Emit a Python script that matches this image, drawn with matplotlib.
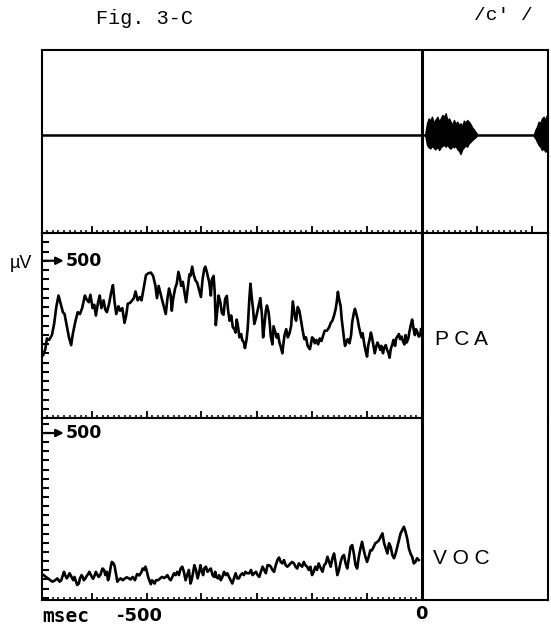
import numpy as np
import matplotlib
matplotlib.use('Agg')
from matplotlib import pyplot as plt
from matplotlib.ticker import FixedLocator, MultipleLocator

# time in msec, 0 = voice onset
t_min, t_max = -690, 230

# PCA (posterior cricoarytenoid) EMG, uV
pca_t = [-688, -684, -681, -677, -672, -668, -664, -660, -656, -652, -649, -645,
         -641, -637, -634, -629, -625, -621, -617, -612, -609, -605, -602, -598,
         -595, -592, -588, -585, -582, -578, -575, -572, -568, -564, -561, -558,
         -555, -551, -548, -544, -540, -537, -534, -530, -526, -523, -520, -516,
         -512, -509, -505, -501, -497, -492, -488, -484, -481, -478, -474, -469,
         -465, -462, -459, -456, -454, -452, -448, -445, -442, -439, -437, -434,
         -431, -428, -425, -422, -420, -417, -414, -411, -408, -405, -401, -398,
         -395, -393, -390, -388, -386, -383, -381, -378, -376, -374, -371, -369,
         -366, -363, -360, -357, -354, -352, -349, -346, -343, -340, -338, -336,
         -334, -331, -328, -326, -323, -321, -318, -316, -313, -311, -309, -306,
         -304, -301, -298, -295, -293, -290, -288, -286, -283, -281, -278, -276,
         -274, -271, -269, -266, -263, -261, -258, -256, -253, -251, -249, -246,
         -243, -240, -237, -234, -230, -228, -225, -222, -219, -216, -213, -210,
         -207, -203, -201, -199, -196, -194, -191, -188, -185, -182, -179, -176,
         -172, -168, -165, -162, -159, -156, -154, -152, -150, -147, -145, -142,
         -140, -139, -136, -134, -131, -128, -126, -123, -121, -119, -116, -114,
         -111, -109, -107, -104, -102, -99, -97, -94, -92, -90, -87, -85,
         -82, -80, -77, -75, -73, -70, -68, -65, -63, -60, -58, -56,
         -53, -51, -48, -46, -43, -41, -39, -36, -34, -31, -29, -27,
         -24, -22, -19, -17, -14, -12, -10, -7, -5, -2, -1]
pca_uv = [245, 261, 290, 286, 299, 329, 375, 406, 384, 361, 356, 324,
          293, 272, 302, 338, 361, 356, 372, 406, 396, 388, 408, 372,
          381, 352, 388, 406, 372, 393, 368, 361, 384, 416, 434, 388,
          356, 377, 365, 372, 332, 352, 384, 386, 393, 399, 417, 393,
          402, 393, 427, 461, 466, 468, 459, 434, 399, 432, 408, 379,
          356, 397, 425, 406, 365, 393, 425, 438, 470, 452, 432, 443,
          416, 388, 425, 463, 459, 484, 461, 447, 441, 425, 402, 450,
          478, 484, 468, 454, 443, 406, 450, 459, 416, 326, 370, 406,
          390, 359, 354, 397, 405, 370, 338, 352, 320, 315, 306, 341,
          326, 293, 302, 286, 279, 264, 288, 317, 397, 438, 406, 365,
          329, 345, 365, 386, 399, 352, 293, 320, 365, 379, 361, 332,
          295, 274, 323, 308, 292, 302, 277, 268, 250, 277, 299, 315,
          293, 304, 324, 390, 347, 338, 375, 365, 338, 311, 288, 293,
          270, 261, 274, 293, 288, 277, 286, 274, 290, 283, 297, 311,
          311, 320, 332, 338, 352, 370, 390, 416, 397, 377, 341, 304,
          279, 270, 283, 288, 277, 299, 334, 359, 370, 359, 341, 323,
          304, 293, 304, 274, 259, 241, 270, 290, 306, 293, 268, 250,
          270, 279, 268, 259, 270, 250, 265, 272, 261, 250, 238, 261,
          274, 286, 270, 290, 297, 302, 288, 295, 283, 274, 299, 279,
          290, 308, 329, 341, 313, 299, 315, 306, 295, 299, 315]

# VOC (vocalis) EMG, uV
voc_t = [-687, -683, -679, -675, -671, -666, -662, -658, -655, -652, -650, -648,
         -645, -643, -640, -638, -635, -633, -631, -628, -626, -623, -621, -618,
         -616, -614, -611, -609, -606, -604, -601, -599, -597, -594, -592, -589,
         -587, -584, -582, -580, -577, -575, -572, -570, -568, -565, -563, -560,
         -558, -555, -553, -551, -547, -543, -540, -536, -532, -529, -525, -521,
         -519, -517, -513, -509, -507, -504, -502, -500, -497, -495, -492, -490,
         -488, -485, -483, -479, -475, -472, -468,
         -465, -462, -459, -456, -453, -450, -447, -444, -441, -438, -435, -432,
         -429, -426, -423, -420, -418, -415, -413, -410, -407, -404, -402, -400,
         -397, -395, -392, -389, -386, -383, -380, -377, -375, -373, -370, -368,
         -365, -362, -359, -356, -353, -350, -347, -344, -341, -338, -335, -332,
         -329, -326, -323, -320, -317, -313, -310, -307, -304, -301, -298, -295,
         -292, -289, -286, -283, -280, -277, -274, -271, -268, -265, -262, -259,
         -256, -253, -250, -247, -244, -241, -238,
         -235, -232, -229, -226, -223, -220, -217, -214, -211, -208, -205, -202,
         -199, -196, -193, -190, -187, -183, -180, -177, -174, -171, -168, -165,
         -162, -159, -156, -153, -150, -147, -144, -141, -138, -135, -132, -129,
         -126, -123, -120, -117, -114, -111, -108, -105, -102, -99, -96, -93,
         -90, -87, -84, -80, -77, -74, -71, -68, -65, -62, -59, -56,
         -53, -50, -47, -44, -41, -38, -35, -32, -29, -26, -23, -20,
         -17, -14, -11, -8, -5]
voc_uv = [112, 107, 103, 98, 94, 98, 103, 94, 98, 112, 121, 112,
          103, 107, 117, 112, 103, 98, 107, 94, 85, 89, 103, 112,
          107, 98, 103, 109, 115, 121, 112, 106, 102, 112, 121, 112,
          107, 112, 121, 130, 126, 112, 121, 98, 107, 135, 148, 144,
          137, 112, 94, 98, 103, 98, 102, 106, 103, 100, 107, 98,
          107, 115, 111, 121, 130, 126, 135, 126, 107, 98, 87, 98,
          94, 89, 98, 98, 103, 107, 104,
          107, 112, 103, 98, 107, 117, 112, 121, 112, 130, 135, 121,
          98, 112, 126, 89, 98, 121, 139, 126, 103, 121, 139, 126,
          112, 130, 135, 121, 126, 130, 112, 107, 121, 107, 103, 112,
          98, 107, 121, 112, 117, 107, 98, 89, 103, 117, 103, 103,
          112, 117, 112, 121, 117, 117, 126, 112, 117, 121, 112, 107,
          121, 135, 126, 117, 139, 139, 135, 126, 121, 139, 153, 160,
          148, 144, 153, 139, 135, 139, 144,
          148, 144, 135, 130, 144, 139, 135, 148, 139, 135, 126, 135,
          112, 121, 135, 126, 144, 130, 121, 139, 144, 162, 148, 135,
          158, 171, 144, 112, 126, 148, 162, 167, 144, 130, 158, 189,
          194, 171, 139, 130, 162, 185, 203, 180, 162, 148, 162, 180,
          180, 189, 199, 203, 208, 217, 226, 199, 185, 171, 199, 189,
          167, 158, 171, 189, 208, 226, 235, 244, 230, 212, 185, 171,
          162, 144, 148, 158, 153]

# speech wave /c'/ : upper and lower envelope of the two bursts (arbitrary units)
burst1_t = [7, 10, 13, 16, 19, 22, 25, 29, 32, 35, 38, 41, 44, 47, 50, 53,
            56, 59, 62, 65, 68, 71, 74, 77, 80, 83, 86, 89, 92, 95, 98, 101]
burst1_hi = [0.019, 0.129, 0.183, 0.158, 0.201, 0.136, 0.165, 0.201, 0.147, 0.183,
             0.22, 0.201, 0.238, 0.158, 0.183, 0.147, 0.11, 0.165, 0.121, 0.147,
             0.11, 0.129, 0.099, 0.158, 0.136, 0.165, 0.147, 0.121, 0.085, 0.063,
             0.037, 0.012]
burst1_lo = [-0.01, -0.108, -0.134, -0.145, -0.119, -0.137, -0.156, -0.127, -0.163,
             -0.134, -0.116, -0.108, -0.127, -0.101, -0.134, -0.148, -0.119, -0.134,
             -0.112, -0.156, -0.17, -0.207, -0.156, -0.134, -0.112, -0.127, -0.09,
             -0.075, -0.054, -0.039, -0.024, -0.003]
burst2_t = [204, 207, 210, 213, 216, 219, 222, 225, 228, 231, 234, 236]
burst2_hi = [0.001, 0.056, 0.092, 0.147, 0.129, 0.183, 0.201, 0.165, 0.22, 0.201,
             0.183, 0.201]
burst2_lo = [-0.01, -0.035, -0.072, -0.108, -0.127, -0.163, -0.145, -0.181, -0.163,
             -0.145, -0.163, -0.156]

W, H = 551, 628
LW = 1.5


def px_box(x0, y0, x1, y1):
    """pixel box (top-left origin) -> figure fraction rect"""
    return [x0 / W, 1 - y1 / H, (x1 - x0) / W, (y1 - y0) / H]


def fig_text(x, y, s, **kw):
    fig.text(x / W, 1 - y / H, s, ha='center', va='center', **kw)


def time_ticks(ax, upto):
    ax.xaxis.set_major_locator(FixedLocator(np.arange(-600, upto + 1, 100)))
    ax.xaxis.set_minor_locator(FixedLocator(np.arange(-680, upto + 1, 10)))
    ax.tick_params(axis='x', which='major', direction='in', length=5, width=1.3,
                   labelbottom=False)
    ax.tick_params(axis='x', which='minor', direction='in', length=2.5, width=1.1)


def emg_panel(ax, t, uv, ylim, label, label_y):
    ax.plot(t, uv, color='black', lw=1.9, solid_joinstyle='round')
    ax.axvline(0, color='black', lw=2.2)
    ax.set_xlim(t_min, t_max)
    ax.set_ylim(*ylim)
    for s in ax.spines.values():
        s.set_linewidth(LW)
    time_ticks(ax, 0)
    ax.yaxis.set_major_locator(MultipleLocator(25))
    ax.tick_params(axis='y', direction='in', length=5, width=1.5, labelleft=False)
    # 500 uV marker
    ax.annotate('', xy=(0.043, 500), xytext=(0.003, 500),
                xycoords=('axes fraction', 'data'),
                arrowprops=dict(arrowstyle='-|>', color='black', lw=1.6,
                                mutation_scale=11, shrinkA=0, shrinkB=0))
    ax.text(0.046, 500, '500', transform=ax.get_yaxis_transform(),
            ha='left', va='center', fontsize=12.5, fontweight='bold',
            family='DejaVu Sans')
    fig_text(461, label_y, label, fontsize=15, family='Liberation Sans')


fig = plt.figure(figsize=(W / 100, H / 100), dpi=100, facecolor='white')

# speech wave
ax_w = fig.add_axes(px_box(42, 50, 548, 233))
ax_w.axhline(0, color='black', lw=1.8)
ax_w.fill_between(burst1_t, burst1_lo, burst1_hi, color='black', lw=1.0)
ax_w.fill_between(burst2_t, burst2_lo, burst2_hi, color='black', lw=1.0)
ax_w.axvline(0, color='black', lw=2.2)
ax_w.set_xlim(t_min, t_max)
ax_w.set_ylim(-1.07, 0.93)
for s in ax_w.spines.values():
    s.set_linewidth(LW)
time_ticks(ax_w, 200)
ax_w.set_yticks([])

ax_p = fig.add_axes(px_box(42, 233, 548, 418))
ax_v = fig.add_axes(px_box(42, 418, 548, 600))
emg_panel(ax_p, pca_t, pca_uv, (75, 575), 'P C A', 339)
emg_panel(ax_v, voc_t, voc_uv, (44, 541), 'V O C', 559)

# the region after voice onset is one open box for both EMG channels
ax_p.spines['bottom'].set_bounds(t_min, 0)
ax_v.spines['top'].set_bounds(t_min, 0)

fig_text(21, 263, 'µV', fontsize=13, family='Liberation Sans')
fig_text(145, 18, 'Fig. 3-C', fontsize=14.5, family='Liberation Mono')
fig_text(503, 16, "/c' /", fontsize=14, family='Liberation Mono')
fig_text(66, 617, 'msec', fontsize=14, family='DejaVu Sans Mono', fontweight='bold')
fig_text(140, 616, '-500', fontsize=13, family='DejaVu Sans', fontweight='bold')
fig_text(421, 614, '0', fontsize=13, family='DejaVu Sans', fontweight='bold')

fig.savefig('out.png', dpi=100, facecolor='white')
